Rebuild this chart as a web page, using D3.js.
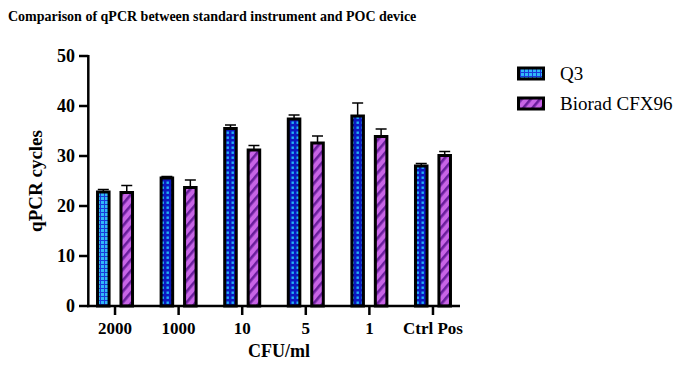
<!DOCTYPE html>
<html><head><meta charset="utf-8">
<script src="https://cdn.jsdelivr.net/npm/d3@7"></script>
<style>body{margin:0;background:#fff}svg{display:block}</style>
</head><body>
<script>
const categories = ["2000","1000","10","5","1","Ctrl Pos"];
const series = ["Q3","Biorad CFX96"];
const q3Values = [22.8, 25.6, 35.5, 37.4, 38.0, 28.0];
const q3Errors = [0.5, 0.3, 0.7, 0.8, 2.6, 0.5];
const bioradValues = [22.7, 23.7, 31.2, 32.6, 33.9, 30.1];
const bioradErrors = [1.4, 1.5, 0.9, 1.4, 1.5, 0.8];
const yTicks = [0,10,20,30,40,50];

const FONT="'Liberation Serif', 'Times New Roman', 'DejaVu Serif', serif";
const W=677,H=366;
const svg=d3.select("body").append("svg").attr("width",W).attr("height",H).attr("font-family",FONT);
const defs=svg.append("defs");
let p=defs.append("pattern").attr("id","q3dark").attr("patternUnits","userSpaceOnUse").attr("width",5).attr("height",5);
p.append("rect").attr("width",5).attr("height",5).attr("fill","#0c18c0");
p.append("rect").attr("x",1.5).attr("y",1.5).attr("width",2.4).attr("height",2.4).attr("fill","#22b4f4");
p=defs.append("pattern").attr("id","q3light").attr("patternUnits","userSpaceOnUse").attr("width",4).attr("height",4);
p.append("rect").attr("width",4).attr("height",4).attr("fill","#1a3ad8");
p.append("rect").attr("x",1).attr("y",1).attr("width",3).attr("height",3).attr("fill","#30b8f8");
p=defs.append("pattern").attr("id","stripes").attr("patternUnits","userSpaceOnUse").attr("width",7).attr("height",7).attr("patternTransform","rotate(40)");
p.append("rect").attr("width",7).attr("height",7).attr("fill","#c864e6");
p.append("rect").attr("width",2.6).attr("height",7).attr("fill","#6a1e9c");

const y=d3.scaleLinear().domain([0,50]).range([306,56]);
const x0=d3.scalePoint().domain(categories).range([88,460]).padding(0.425);
const x1=d3.scaleBand().domain(series).range([-19,19]).paddingInner(0.38);

function txt(sel){return sel.append("text").attr("font-family",FONT);}

txt(svg).attr("x",8).attr("y",21).attr("font-size",14).attr("font-weight","bold").text("Comparison of qPCR between standard instrument and POC device");

const data=[];
categories.forEach((c,i)=>{
  data.push({c,s:series[0],v:q3Values[i],e:q3Errors[i],fill:i===0?"url(#q3light)":"url(#q3dark)"});
  data.push({c,s:series[1],v:bioradValues[i],e:bioradErrors[i],fill:"url(#stripes)"});
});
const sw=3;
const g=svg.append("g");
data.forEach(d=>{
  const xl=x0(d.c)+x1(d.s);
  const bw=x1.bandwidth();
  const cx=xl+bw/2;
  g.append("line").attr("x1",cx).attr("x2",cx).attr("y1",y(d.v)).attr("y2",y(d.v+d.e)).attr("stroke","#000").attr("stroke-width",1.5);
  g.append("line").attr("x1",cx-5.5).attr("x2",cx+5.5).attr("y1",y(d.v+d.e)).attr("y2",y(d.v+d.e)).attr("stroke","#000").attr("stroke-width",1.5);
  g.append("rect").attr("x",xl+sw/2).attr("y",y(d.v)).attr("width",bw-sw).attr("height",y(0)-y(d.v))
    .attr("fill",d.fill).attr("stroke","#000").attr("stroke-width",sw);
});

const ya=svg.append("g");
ya.append("line").attr("x1",88.3).attr("x2",88.3).attr("y1",y(50)-1).attr("y2",y(0)+1.2).attr("stroke","#000").attr("stroke-width",2.5);
yTicks.forEach(t=>{
  ya.append("line").attr("x1",79).attr("x2",88.3).attr("y1",y(t)).attr("y2",y(t)).attr("stroke","#000").attr("stroke-width",2.5);
  txt(ya).attr("x",75).attr("y",y(t)).attr("dy","0.35em").attr("text-anchor","end").attr("font-size",18).attr("font-weight","bold").text(t);
});
const xa=svg.append("g");
xa.append("line").attr("x1",87).attr("x2",460).attr("y1",y(0)).attr("y2",y(0)).attr("stroke","#000").attr("stroke-width",2.5);
categories.forEach(c=>{
  xa.append("line").attr("x1",x0(c)).attr("x2",x0(c)).attr("y1",y(0)).attr("y2",y(0)+9).attr("stroke","#000").attr("stroke-width",2.5);
  txt(xa).attr("x",x0(c)).attr("y",334).attr("text-anchor","middle").attr("font-size",17).attr("font-weight","bold").text(c);
});
txt(svg).attr("x",279).attr("y",357).attr("text-anchor","middle").attr("font-size",18).attr("font-weight","bold").text("CFU/ml");
txt(svg).attr("transform","translate(42,181) rotate(-90)").attr("text-anchor","middle").attr("font-size",19).attr("font-weight","bold").text("qPCR cycles");

const lg=svg.append("g");
const lfills=["url(#q3light)","url(#stripes)"];
series.forEach((s,i)=>{
  const yy=73.5+i*30;
  lg.append("rect").attr("x",518.5).attr("y",yy-5.5).attr("width",25).attr("height",11).attr("fill",lfills[i]).attr("stroke","#000").attr("stroke-width",3);
  txt(lg).attr("x",560).attr("y",yy).attr("dy","0.35em").attr("font-size",19).attr("font-weight","normal").text(s);
});
</script>
</body></html>
